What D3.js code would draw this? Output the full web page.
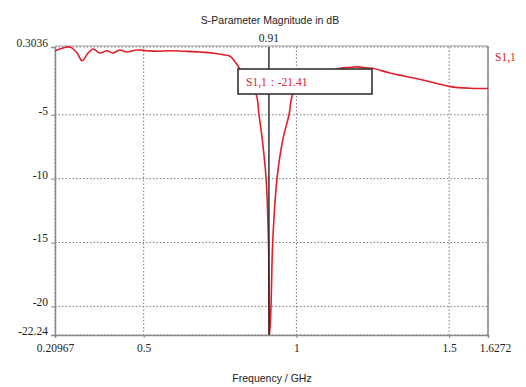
<!DOCTYPE html>
<html>
<head>
<meta charset="utf-8">
<script src="https://cdn.jsdelivr.net/npm/d3@7"></script>
<style>
  body { margin: 0; background: #fff; }
  svg { display: block; }
</style>
</head>
<body>
<div id="chart"></div>
<script>
// S11 trace
const freq = [0.20967, 0.236, 0.259, 0.282, 0.298, 0.318, 0.334, 0.357, 0.380, 0.399, 0.422, 0.445, 0.478,
  0.511, 0.544, 0.586, 0.629, 0.684, 0.727, 0.760, 0.783, 0.802, 0.815, 0.840, 0.868, 0.8775, 0.890,
  0.9007, 0.9086, 0.9105, 0.9125, 0.9168, 0.9224, 0.9365, 0.955, 0.9758, 0.9889, 1.030, 1.080, 1.120,
  1.143, 1.170, 1.200, 1.225, 1.248, 1.306, 1.355, 1.414, 1.460, 1.503, 1.568, 1.6272];
const s11 = [0.01, 0.23, 0.30, -0.17, -0.77, -0.17, 0.15, -0.17, 0.01, -0.17, 0.07, -0.09, 0.07,
  0.01, -0.03, 0.01, -0.03, -0.09, -0.17, -0.30, -0.42, -0.95, -1.42, -2.3, -3.37, -5, -7.3,
  -10, -15, -20, -22.24, -20, -15, -10, -7, -5, -3.37, -2.4, -1.8, -1.5,
  -1.36, -1.3, -1.25, -1.33, -1.36, -1.73, -1.98, -2.28, -2.55, -2.8, -2.93, -2.94];

const xTicks = [0.20967, 0.5, 1, 1.5, 1.6272];
const yTicks = [0.3036, -5, -10, -15, -20, -22.24];
const markerFreq = 0.91;
const markerValue = -21.41;
const traceName = 'S1,1';

const width = 526, height = 387;
const margin = { top: 47, right: 38, bottom: 52, left: 55 };
const innerW = width - margin.left - margin.right;
const innerH = height - margin.top - margin.bottom;

const svg = d3.select('#chart').append('svg')
  .attr('width', width)
  .attr('height', height);

const g = svg.append('g')
  .attr('transform', `translate(${margin.left},${margin.top})`);

const x = d3.scaleLinear().domain([xTicks[0], xTicks[xTicks.length - 1]]).range([0, innerW]);
const y = d3.scaleLinear().domain([yTicks[yTicks.length - 1], yTicks[0]]).range([innerH, 0]);

const numFont = '"Liberation Serif", serif';
const txtFont = '"Liberation Sans", Arial, sans-serif';

svg.append('defs').append('clipPath').attr('id', 'plot')
  .append('rect').attr('x', 0).attr('y', -2).attr('width', innerW).attr('height', innerH + 2);

// dotted grid
g.append('g').selectAll('line').data(xTicks)
  .join('line')
  .attr('x1', d => x(d)).attr('x2', d => x(d))
  .attr('y1', 0).attr('y2', innerH)
  .attr('stroke', '#7a7a7a').attr('stroke-dasharray', '1.5,2');
g.append('g').selectAll('line').data(yTicks)
  .join('line')
  .attr('x1', 0).attr('x2', innerW)
  .attr('y1', d => y(d)).attr('y2', d => y(d))
  .attr('stroke', '#7a7a7a').attr('stroke-dasharray', '1.5,2');

// frame
g.append('line').attr('x1', 0).attr('x2', innerW).attr('y1', -1).attr('y2', -1)
  .attr('stroke', '#9a9a9a');
g.append('line').attr('x1', innerW).attr('x2', innerW).attr('y1', -1).attr('y2', innerH)
  .attr('stroke', '#8a8a8a').attr('stroke-width', 1.5);

// axes
const yAxis = d3.axisLeft(y).tickValues(yTicks).tickSize(4).tickFormat(d => String(d));
const xAxis = d3.axisBottom(x).tickValues(xTicks).tickSize(3).tickFormat(d => String(d));

const ya = g.append('g').call(yAxis);
ya.select('.domain').attr('stroke', '#8a8a8a').attr('stroke-width', 1.5);
ya.selectAll('.tick line').attr('stroke', '#8a8a8a');
ya.selectAll('.tick text')
  .attr('x', -7).attr('dy', '-0.05em')
  .attr('fill', '#222').style('font-family', numFont).style('font-size', '11.5px');

const xa = g.append('g').attr('transform', `translate(0,${innerH})`).call(xAxis);
xa.select('.domain').attr('stroke', '#8a8a8a').attr('stroke-width', 1.5);
xa.selectAll('.tick line').attr('stroke', '#8a8a8a');
xa.selectAll('.tick text')
  .attr('y', 9)
  .attr('dx', (d, i) => i === xTicks.length - 1 ? 7 : 0)
  .attr('fill', '#222').style('font-family', numFont).style('font-size', '11.5px');

// trace
const pts = freq.map((f, i) => [f, s11[i]]);
const line = d3.line().x(d => x(d[0])).y(d => y(d[1])).curve(d3.curveCatmullRom.alpha(0.5));
g.append('path').datum(pts)
  .attr('d', line)
  .attr('clip-path', 'url(#plot)')
  .attr('fill', 'none')
  .attr('stroke', '#e0202a')
  .attr('stroke-width', 1.6);

// marker line
g.append('line')
  .attr('x1', x(markerFreq)).attr('x2', x(markerFreq))
  .attr('y1', 0).attr('y2', innerH)
  .attr('stroke', '#222').attr('stroke-width', 1.4);
g.append('text')
  .attr('x', x(markerFreq)).attr('y', -5)
  .attr('text-anchor', 'middle')
  .attr('fill', '#222').style('font-family', numFont).style('font-size', '11.5px')
  .text(String(markerFreq));

// marker readout box
const box = g.append('g').attr('transform', `translate(${238 - margin.left},${69 - margin.top})`);
box.append('rect')
  .attr('width', 134).attr('height', 25)
  .attr('fill', '#fff').attr('stroke', '#333').attr('stroke-width', 1.6);
box.append('text')
  .attr('x', 8).attr('y', 17)
  .attr('fill', '#e0202a').style('font-family', numFont).style('font-size', '11.5px')
  .style('word-spacing', '1px')
  .text(`${traceName} : ${markerValue}`);

// trace label at right
g.append('text')
  .attr('x', innerW + 7).attr('y', y(s11[0]) + 10)
  .attr('fill', '#e0202a').style('font-family', numFont).style('font-size', '11.5px')
  .text(traceName);

// titles
svg.append('text')
  .attr('x', 270).attr('y', 24)
  .attr('text-anchor', 'middle')
  .attr('fill', '#222').style('font-family', txtFont).style('font-size', '10.5px')
  .text('S-Parameter Magnitude in dB');
svg.append('text')
  .attr('x', 272).attr('y', 382)
  .attr('text-anchor', 'middle')
  .attr('fill', '#222').style('font-family', txtFont).style('font-size', '10.5px')
  .text('Frequency / GHz');
</script>
</body>
</html>
